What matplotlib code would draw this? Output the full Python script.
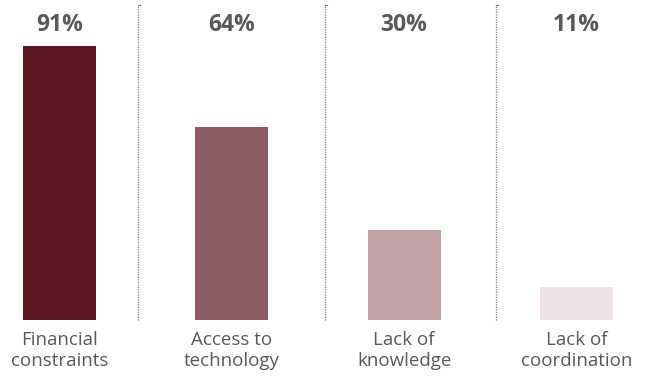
import matplotlib.pyplot as plt

categories = ["Financial\nconstraints", "Access to\ntechnology", "Lack of\nknowledge", "Lack of\ncoordination"]
values = [91, 64, 30, 11]
labels = ["91%", "64%", "30%", "11%"]
colors = ["#5a1621", "#8b5c64", "#c0a2a6", "#ede3e4"]

plt.rcParams['font.family'] = ['Open Sans', 'DejaVu Sans']

fig = plt.figure(figsize=(6.61, 3.76), dpi=100)
ax = fig.add_axes([0, 0, 1, 1])

x = range(len(values))
ax.bar(x, values, width=0.424, color=colors)

# separators between groups
for sx in [0.456, 1.541, 2.533]:
    ax.plot([sx, sx], [0, 104.6], color="#7f7f7f", linestyle=(0, (1, 1)), linewidth=0.9)
    ax.plot([sx, sx + 0.012], [104.6, 104.6], color="#7f7f7f", linewidth=0.9)

for i, (v, lab, cat) in enumerate(zip(values, labels, categories)):
    ax.text(i, 98, lab, ha="center", va="center", fontsize=16.5, fontweight="bold", color="#595959")
    ax.text(i, -3.6, cat, ha="center", va="top", fontsize=13.5, color="#595959", linespacing=1.2)

ax.set_xlim(-0.345, 3.491)
ax.set_ylim(-18.6, 106.3)
ax.axis("off")

fig.savefig("out.png", dpi=100)
